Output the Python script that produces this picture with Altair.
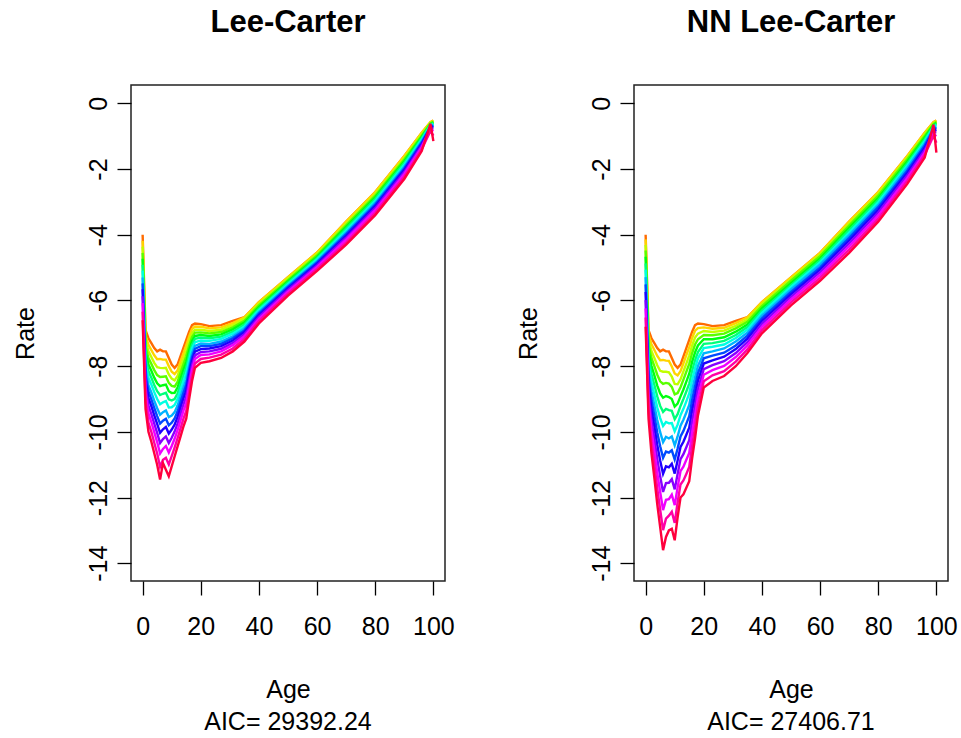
import altair as alt
import pandas as pd

AGES = [0, 1, 2, 3, 4, 5, 6, 7, 8, 9, 10, 11, 12, 13, 14, 15, 16, 17, 18,
        20, 23, 27, 31, 35, 40, 50, 60, 70, 80, 90, 96, 99, 100]
LINES = ["L01", "L02", "L03", "L04", "L05", "L06", "L07",
         "L08", "L09", "L10", "L11", "L12", "L13", "L14"]
COLORS = ["#FF6B00", "#FFD400", "#C1FF00", "#58FF00", "#00FF10", "#00FF79", "#00FFE2",
          "#00B3FF", "#004AFF", "#1E00FF", "#8700FF", "#F000FF", "#FF00A5", "#FF003D"]

# log death rates, one row per age, one value per fitted line (earliest -> latest)
LC_RATES = [
    [-4.0, -4.18, -4.36, -4.55, -4.73, -4.91, -5.09, -5.3, -5.48, -5.66, -5.87, -6.08, -6.34, -6.6],
    [-6.9, -7.07, -7.24, -7.4, -7.57, -7.74, -7.91, -8.1, -8.27, -8.44, -8.63, -8.82, -9.06, -9.3],
    [-7.15, -7.35, -7.55, -7.75, -7.95, -8.15, -8.35, -8.58, -8.77, -8.97, -9.2, -9.43, -9.72, -10.0],
    [-7.3, -7.51, -7.72, -7.93, -8.14, -8.35, -8.56, -8.8, -9.01, -9.22, -9.46, -9.7, -10.0, -10.3],
    [-7.45, -7.67, -7.9, -8.12, -8.35, -8.57, -8.79, -9.05, -9.27, -9.5, -9.75, -10.01, -10.33, -10.65],
    [-7.55, -7.79, -8.03, -8.27, -8.52, -8.76, -9.0, -9.28, -9.52, -9.76, -10.03, -10.31, -10.66, -11.0],
    [-7.5, -7.78, -8.05, -8.33, -8.61, -8.88, -9.16, -9.48, -9.75, -10.03, -10.34, -10.66, -11.06, -11.45],
    [-7.55, -7.8, -8.06, -8.32, -8.58, -8.84, -9.1, -9.4, -9.66, -9.92, -10.22, -10.52, -10.85, -10.95],
    [-7.55, -7.8, -8.05, -8.31, -8.56, -8.81, -9.06, -9.35, -9.6, -9.85, -10.14, -10.43, -10.79, -11.15],
    [-7.75, -8.0, -8.25, -8.51, -8.76, -9.01, -9.26, -9.55, -9.8, -10.05, -10.34, -10.63, -10.99, -11.35],
    [-7.95, -8.17, -8.38, -8.6, -8.82, -9.04, -9.25, -9.5, -9.72, -9.93, -10.18, -10.43, -10.74, -11.05],
    [-8.05, -8.24, -8.43, -8.62, -8.81, -9.0, -9.18, -9.4, -9.59, -9.78, -9.99, -10.21, -10.48, -10.75],
    [-7.95, -8.13, -8.3, -8.48, -8.65, -8.83, -9.0, -9.2, -9.38, -9.55, -9.75, -9.95, -10.2, -10.45],
    [-7.7, -7.87, -8.04, -8.21, -8.39, -8.56, -8.73, -8.93, -9.1, -9.27, -9.46, -9.66, -9.91, -10.15],
    [-7.45, -7.62, -7.79, -7.95, -8.12, -8.29, -8.46, -8.65, -8.82, -8.99, -9.18, -9.37, -9.61, -9.85],
    [-7.2, -7.37, -7.54, -7.7, -7.87, -8.04, -8.21, -8.4, -8.57, -8.74, -8.93, -9.12, -9.36, -9.6],
    [-6.95, -7.09, -7.24, -7.38, -7.52, -7.67, -7.81, -7.98, -8.12, -8.26, -8.43, -8.59, -8.8, -9.0],
    [-6.75, -6.87, -6.99, -7.11, -7.23, -7.35, -7.46, -7.6, -7.72, -7.84, -7.97, -8.11, -8.28, -8.45],
    [-6.7, -6.79, -6.89, -6.98, -7.08, -7.17, -7.27, -7.38, -7.47, -7.56, -7.67, -7.78, -7.92, -8.05],
    [-6.72, -6.8, -6.89, -6.97, -7.05, -7.13, -7.22, -7.31, -7.39, -7.48, -7.57, -7.66, -7.78, -7.9],
    [-6.78, -6.85, -6.93, -7.0, -7.08, -7.15, -7.23, -7.32, -7.39, -7.46, -7.55, -7.64, -7.74, -7.85],
    [-6.75, -6.82, -6.89, -6.96, -7.03, -7.1, -7.17, -7.25, -7.32, -7.39, -7.47, -7.55, -7.65, -7.75],
    [-6.62, -6.69, -6.75, -6.82, -6.88, -6.95, -7.01, -7.09, -7.15, -7.22, -7.29, -7.36, -7.46, -7.55],
    [-6.51, -6.51, -6.56, -6.62, -6.67, -6.73, -6.79, -6.85, -6.91, -6.96, -7.03, -7.09, -7.17, -7.25],
    [-6.05, -6.05, -6.1, -6.15, -6.2, -6.25, -6.29, -6.35, -6.4, -6.45, -6.5, -6.56, -6.63, -6.7],
    [-5.29, -5.29, -5.33, -5.38, -5.42, -5.46, -5.5, -5.55, -5.59, -5.63, -5.68, -5.73, -5.79, -5.85],
    [-4.54, -4.54, -4.58, -4.63, -4.67, -4.71, -4.75, -4.8, -4.84, -4.88, -4.93, -4.98, -5.04, -5.1],
    [-3.6, -3.6, -3.66, -3.71, -3.76, -3.81, -3.87, -3.93, -3.98, -4.03, -4.09, -4.15, -4.23, -4.3],
    [-2.7, -2.7, -2.76, -2.81, -2.86, -2.91, -2.97, -3.03, -3.08, -3.13, -3.19, -3.25, -3.33, -3.4],
    [-1.6, -1.6, -1.66, -1.71, -1.76, -1.81, -1.87, -1.93, -1.98, -2.03, -2.09, -2.15, -2.23, -2.3],
    [-0.89, -0.89, -0.93, -0.98, -1.02, -1.06, -1.1, -1.15, -1.19, -1.23, -1.28, -1.33, -1.39, -1.45],
    [-0.57, -0.57, -0.59, -0.61, -0.63, -0.65, -0.67, -0.7, -0.72, -0.74, -0.77, -0.8, -0.84, -0.62],
    [-0.52, -0.52, -0.54, -0.56, -0.58, -0.6, -0.62, -0.65, -0.68, -0.72, -0.77, -0.85, -0.98, -1.15],
]

NN_RATES = [
    [-4.0, -4.14, -4.31, -4.48, -4.67, -4.87, -5.06, -5.29, -5.51, -5.74, -5.99, -6.24, -6.52, -6.8],
    [-6.9, -7.04, -7.2, -7.36, -7.55, -7.74, -7.93, -8.14, -8.36, -8.57, -8.82, -9.06, -9.33, -9.6],
    [-7.15, -7.33, -7.54, -7.75, -7.99, -8.24, -8.48, -8.76, -9.04, -9.32, -9.64, -9.95, -10.3, -10.65],
    [-7.3, -7.51, -7.75, -8.0, -8.28, -8.57, -8.86, -9.19, -9.51, -9.84, -10.21, -10.58, -10.99, -11.4],
    [-7.45, -7.69, -7.97, -8.26, -8.59, -8.92, -9.26, -9.64, -10.02, -10.4, -10.82, -11.25, -11.73, -12.2],
    [-7.55, -7.82, -8.14, -8.46, -8.83, -9.21, -9.58, -10.01, -10.44, -10.87, -11.35, -11.83, -12.37, -12.9],
    [-7.5, -7.81, -8.17, -8.54, -8.96, -9.39, -9.82, -10.31, -10.79, -11.28, -11.83, -12.38, -12.99, -13.6],
    [-7.55, -7.83, -8.17, -8.51, -8.91, -9.3, -9.7, -10.15, -10.6, -11.05, -11.56, -12.07, -12.64, -13.2],
    [-7.55, -7.84, -8.19, -8.53, -8.94, -9.34, -9.74, -10.2, -10.63, -11.08, -11.55, -12.05, -12.55, -13.0],
    [-7.75, -8.01, -8.32, -8.63, -9.0, -9.36, -9.73, -10.14, -10.56, -10.97, -11.44, -11.91, -12.43, -12.95],
    [-7.95, -8.22, -8.54, -8.86, -9.23, -9.61, -9.98, -10.41, -10.84, -11.27, -11.75, -12.23, -12.77, -13.3],
    [-8.05, -8.28, -8.55, -8.82, -9.14, -9.46, -9.78, -10.14, -10.51, -10.87, -11.28, -11.69, -12.15, -12.6],
    [-7.95, -8.15, -8.4, -8.64, -8.92, -9.21, -9.49, -9.81, -10.14, -10.46, -10.83, -11.19, -11.6, -12.0],
    [-7.7, -7.91, -8.16, -8.41, -8.71, -9.0, -9.3, -9.63, -9.97, -10.3, -10.68, -11.06, -11.48, -11.9],
    [-7.45, -7.66, -7.92, -8.17, -8.47, -8.77, -9.07, -9.41, -9.75, -10.09, -10.47, -10.85, -11.28, -11.7],
    [-7.2, -7.42, -7.67, -7.93, -8.23, -8.53, -8.83, -9.18, -9.52, -9.87, -10.25, -10.64, -11.07, -11.5],
    [-6.95, -7.14, -7.37, -7.6, -7.87, -8.14, -8.41, -8.72, -9.03, -9.34, -9.68, -10.03, -10.42, -10.8],
    [-6.75, -6.92, -7.13, -7.34, -7.58, -7.82, -8.06, -8.34, -8.61, -8.89, -9.2, -9.51, -9.86, -10.2],
    [-6.7, -6.84, -7.01, -7.18, -7.37, -7.57, -7.76, -7.99, -8.21, -8.44, -8.69, -8.94, -9.22, -9.5],
    [-6.72, -6.82, -6.93, -7.05, -7.18, -7.32, -7.45, -7.61, -7.76, -7.92, -8.09, -8.26, -8.46, -8.65],
    [-6.78, -6.86, -6.96, -7.06, -7.18, -7.3, -7.41, -7.55, -7.68, -7.82, -7.97, -8.12, -8.28, -8.45],
    [-6.75, -6.83, -6.92, -7.01, -7.12, -7.23, -7.34, -7.46, -7.59, -7.71, -7.85, -7.99, -8.15, -8.3],
    [-6.62, -6.69, -6.77, -6.85, -6.95, -7.05, -7.14, -7.25, -7.37, -7.48, -7.6, -7.72, -7.86, -8.0],
    [-6.51, -6.51, -6.58, -6.65, -6.73, -6.81, -6.89, -6.98, -7.07, -7.16, -7.27, -7.37, -7.49, -7.6],
    [-6.05, -6.05, -6.11, -6.17, -6.24, -6.31, -6.38, -6.46, -6.54, -6.62, -6.71, -6.8, -6.9, -7.0],
    [-5.3, -5.3, -5.35, -5.4, -5.47, -5.53, -5.59, -5.66, -5.74, -5.81, -5.89, -5.97, -6.06, -6.15],
    [-4.55, -4.55, -4.6, -4.65, -4.72, -4.78, -4.84, -4.91, -4.99, -5.06, -5.14, -5.22, -5.31, -5.4],
    [-3.6, -3.6, -3.66, -3.72, -3.79, -3.86, -3.93, -4.01, -4.09, -4.17, -4.26, -4.35, -4.45, -4.55],
    [-2.7, -2.7, -2.75, -2.81, -2.88, -2.94, -3.01, -3.09, -3.16, -3.24, -3.32, -3.41, -3.51, -3.6],
    [-1.6, -1.6, -1.65, -1.7, -1.77, -1.83, -1.89, -1.96, -2.04, -2.11, -2.19, -2.27, -2.36, -2.45],
    [-0.89, -0.89, -0.94, -0.99, -1.04, -1.1, -1.15, -1.22, -1.28, -1.35, -1.42, -1.49, -1.57, -1.65],
    [-0.57, -0.57, -0.6, -0.63, -0.66, -0.69, -0.72, -0.76, -0.8, -0.84, -0.88, -0.93, -0.99, -0.65],
    [-0.52, -0.52, -0.54, -0.57, -0.6, -0.63, -0.66, -0.7, -0.75, -0.8, -0.88, -1.0, -1.2, -1.5],
]

TITLES = ["Lee-Carter", "NN Lee-Carter"]
AIC_LABELS = ["AIC= 29392.24", "AIC= 27406.71"]
X_TICKS = [0, 20, 40, 60, 80, 100]
Y_TICKS = [0, -2, -4, -6, -8, -10, -12, -14]

FONT = "Liberation Sans"


def to_frame(rates):
    rows = []
    for i, age in enumerate(AGES):
        for j, name in enumerate(LINES):
            rows.append({"age": age, "rate": rates[i][j], "line": name})
    return pd.DataFrame(rows)


def panel(rates, title, aic):
    lines = alt.Chart(to_frame(rates)).mark_line(strokeWidth=2.4).encode(
        x=alt.X("age:Q",
                scale=alt.Scale(domain=[-4, 104], nice=False, zero=False),
                axis=alt.Axis(values=X_TICKS, title="Age", labelExpr="toString(datum.value)",
                              titleY=116, titleBaseline="alphabetic",
                              labelPadding=19)),
        y=alt.Y("rate:Q",
                scale=alt.Scale(domain=[-14.54, 0.56], nice=False, zero=False),
                axis=alt.Axis(values=Y_TICKS, title="Rate", labelAngle=270,
                              labelExpr="toString(datum.value)", labelPadding=6,
                              labelAlign="center", labelBaseline="bottom",
                              titleX=-106, titleY=248, titleAngle=270,
                              titleAlign="center", titleBaseline="middle")),
        color=alt.Color("line:N", scale=alt.Scale(domain=LINES, range=COLORS), legend=None),
    )
    aic_text = alt.Chart(pd.DataFrame({"t": [aic]})).mark_text(
        font=FONT, fontSize=25, color="#000000", align="center", baseline="alphabetic"
    ).encode(x=alt.value(157), y=alt.value(645), text="t:N")
    return alt.layer(lines, aic_text).properties(
        width=314, height=496,
        title=alt.TitleParams(title, fontSize=31, fontWeight="bold", font=FONT,
                              anchor="middle", offset=46, color="#000000"),
    )


chart = alt.hconcat(
    panel(LC_RATES, TITLES[0], AIC_LABELS[0]),
    panel(NN_RATES, TITLES[1], AIC_LABELS[1]),
    spacing=60,
).configure_view(
    stroke="#222222", strokeWidth=1.5
).configure_axis(
    grid=False, domain=False, tickColor="#000000", tickSize=14, tickWidth=1.3,
    labelFont=FONT, labelFontSize=25, labelColor="#000000",
    titleFont=FONT, titleFontSize=25, titleFontWeight="normal", titleColor="#000000",
).properties(
    background="white", padding={"left": 12, "top": 6, "right": 0, "bottom": 0}
)

chart.save("out.html", embed_options={"renderer": "svg", "actions": False})
